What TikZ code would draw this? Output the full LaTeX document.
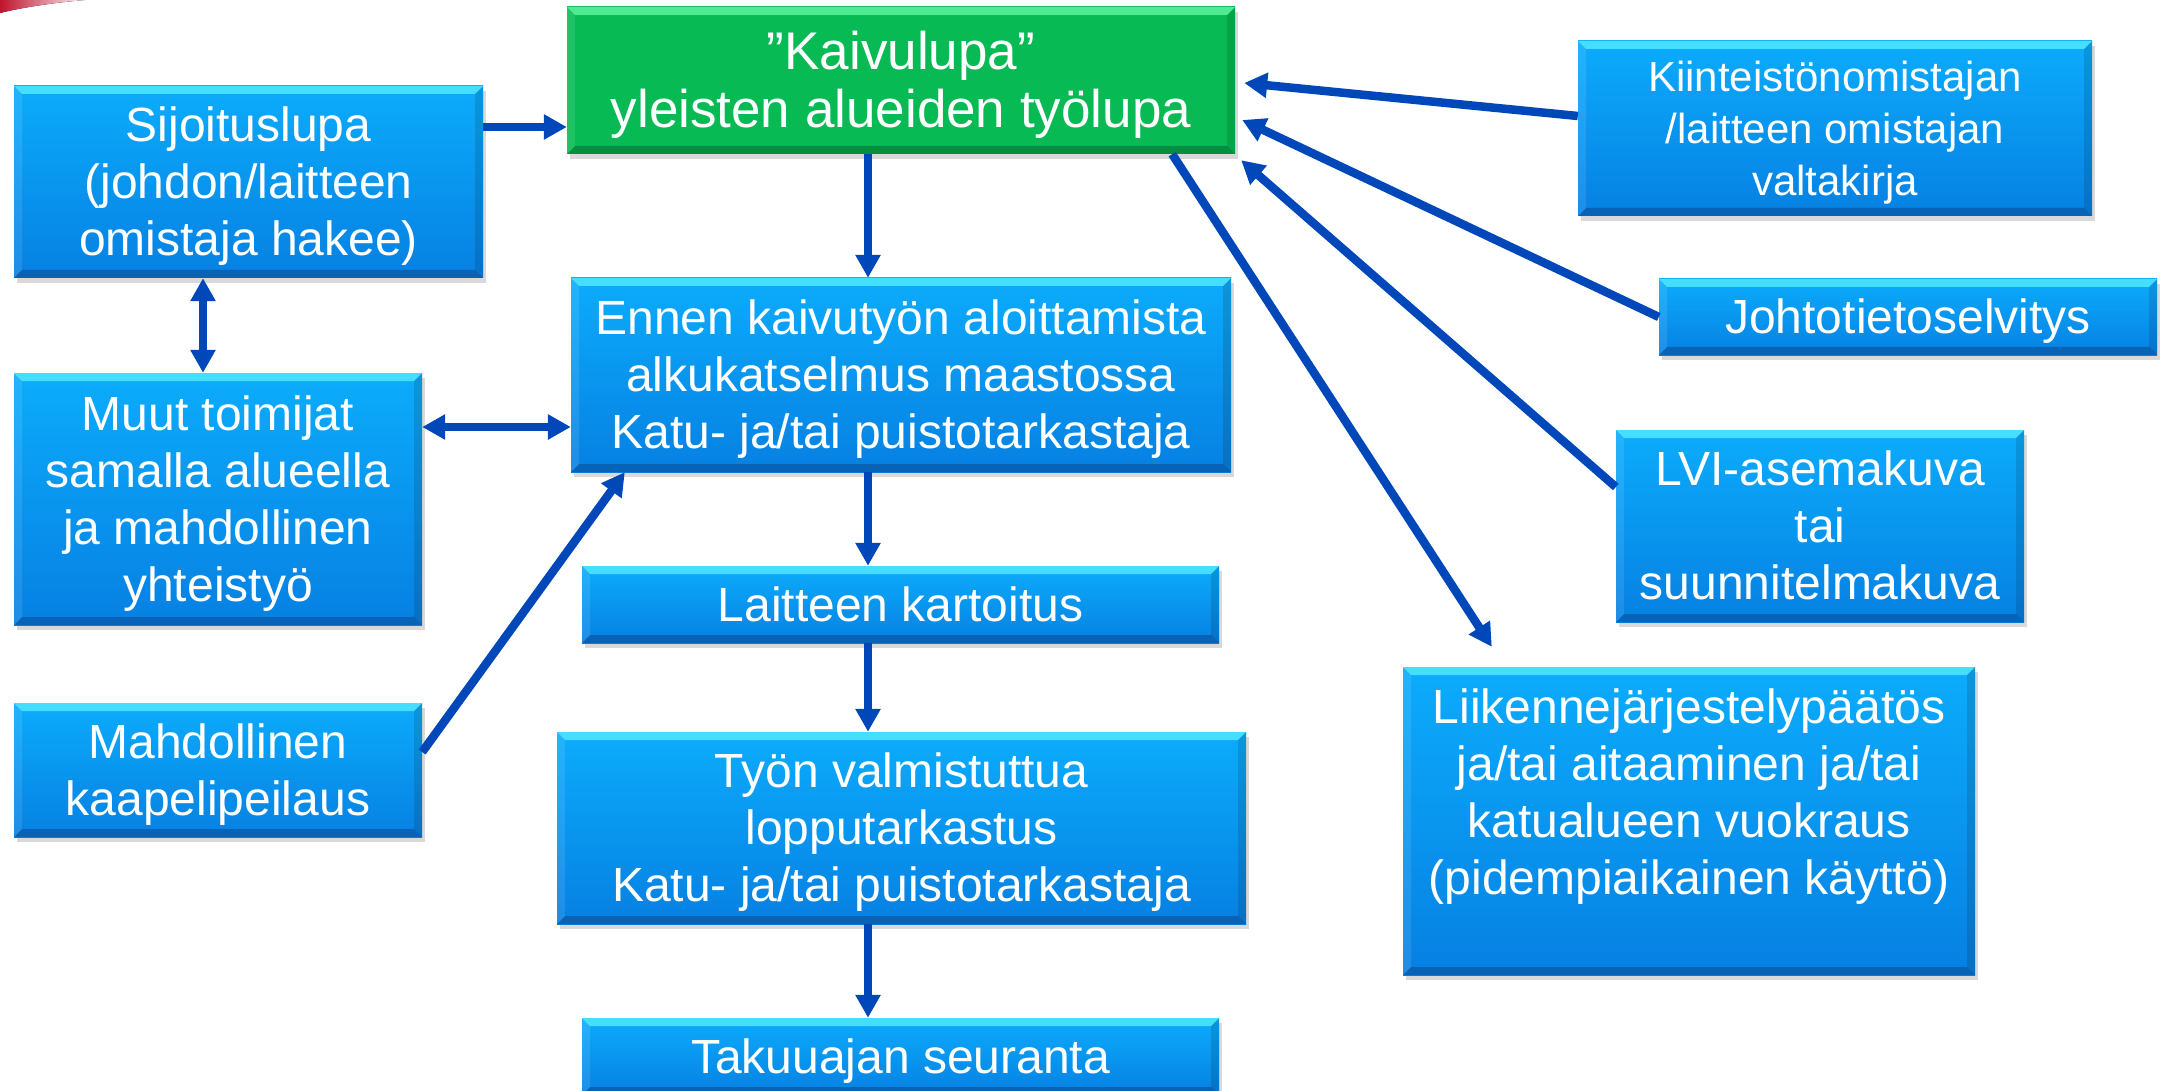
\documentclass[tikz,border=0pt]{standalone}
\usepackage{fontspec}
\setmainfont{Liberation Sans}
\usetikzlibrary{arrows.meta,shadows}

\definecolor{boxtop}{RGB}{12,172,252}
\definecolor{boxbot}{RGB}{6,128,226}
\definecolor{bevelhi}{RGB}{70,222,255}
\definecolor{bevello}{RGB}{8,98,182}
\definecolor{permit}{RGB}{8,186,84}
\definecolor{permithi}{RGB}{80,234,146}
\definecolor{permitlo}{RGB}{6,142,64}
\definecolor{flow}{RGB}{0,72,186}
\definecolor{logored}{RGB}{190,20,45}

% ascent/descent of the font, so that lines sit as in the slide
\newcommand\slidestrut{\rule[-0.212em]{0pt}{1.117em}}

\begin{document}
\begin{tikzpicture}[x=1pt,y=-1pt,
  bevel/.style 2 args={path picture={
    \fill[#1] (path picture bounding box.north west) -- (path picture bounding box.north east)
      -- ([xshift=-8pt,yshift=-8pt]path picture bounding box.north east)
      -- ([xshift=8pt,yshift=-8pt]path picture bounding box.north west) -- cycle;
    \fill[#2] (path picture bounding box.south west) -- (path picture bounding box.south east)
      -- ([xshift=-8pt,yshift=8pt]path picture bounding box.south east)
      -- ([xshift=8pt,yshift=8pt]path picture bounding box.south west) -- cycle;
    \fill[white,opacity=0.1] (path picture bounding box.north west) -- ([xshift=8pt,yshift=-8pt]path picture bounding box.north west)
      -- ([xshift=8pt,yshift=8pt]path picture bounding box.south west) -- (path picture bounding box.south west) -- cycle;
    \fill[black,opacity=0.12] (path picture bounding box.north east) -- ([xshift=-8pt,yshift=-8pt]path picture bounding box.north east)
      -- ([xshift=-8pt,yshift=8pt]path picture bounding box.south east) -- (path picture bounding box.south east) -- cycle;
  }},
  box/.style={rectangle, inner sep=0pt, align=center, text=white,
    font=\fontsize{48}{57}\selectfont,
    execute at end node=\slidestrut,
    top color=boxtop, bottom color=boxbot, bevel={bevelhi}{bevello},
    drop shadow={shadow xshift=3pt,shadow yshift=-5pt,opacity=0.3}},
  permitbox/.style={box, top color=permit, bottom color=permit, bevel={permithi}{permitlo},
    font=\fontsize{53}{58}\selectfont},
  arr/.style={draw=flow, line width=8.5pt, -{Triangle[length=23pt,width=24pt]}},
  arr2/.style={arr, {Triangle[length=23pt,width=24pt]}-{Triangle[length=23pt,width=24pt]}}]

\useasboundingbox (0,0) rectangle (2169,1091);

% corner of the logo
\fill[left color=logored, right color=logored!5] (0,0) -- (85,0) .. controls (50,3) and (20,8) .. (0,13) -- cycle;

% boxes
\node[permitbox, minimum width=668, minimum height=147] (kaivu) at (901,80.5) {\slidestrut”Kaivulupa”\\yleisten alueiden työlupa};
\node[box, minimum width=469, minimum height=192] (sijo) at (248.5,182) {\slidestrut Sijoituslupa\\(johdon/laitteen\\omistaja hakee)};
\node[box, minimum width=660, minimum height=194] (ennen) at (901,375) {\slidestrut Ennen kaivutyön aloittamista\\alkukatselmus maastossa\\Katu- ja/tai puistotarkastaja};
\node[box, minimum width=408, minimum height=252] (muut) at (218,499) {\slidestrut Muut toimijat\\samalla alueella\\ja mahdollinen\\yhteistyö};
\node[box, minimum width=637, minimum height=77] (laite) at (900.5,604.5) {\slidestrut Laitteen kartoitus};
\node[box, minimum width=408, minimum height=134] (mahd) at (218,770) {\slidestrut Mahdollinen\\kaapelipeilaus};
\node[box, minimum width=689, minimum height=192] (tyon) at (901.5,828) {\slidestrut Työn valmistuttua\\lopputarkastus\\Katu- ja/tai puistotarkastaja};
\node[box, minimum width=637, minimum height=77] (takuu) at (900.5,1056.5) {\slidestrut Takuuajan seuranta};
\node[box, minimum width=514, minimum height=175, font=\fontsize{42}{52}\selectfont] (kiint) at (1835,128.5) {\slidestrut Kiinteistönomistajan\\/laitteen omistajan\\valtakirja};
\node[box, minimum width=498, minimum height=76] (johto) at (1908,317) {\slidestrut Johtotietoselvitys};
\node[box, minimum width=408, minimum height=192] (lvi) at (1820,526) {\slidestrut LVI-asemakuva\\tai\\suunnitelmakuva};
\node[box, minimum width=572, minimum height=308] (liik) at (1689,821) {\slidestrut Liikennejärjestelypäätös\\ja/tai aitaaminen ja/tai\\katualueen vuokraus\\(pidempiaikainen käyttö)\\ \mbox{}};

% main chain
\coordinate (spine) at (868,0);
\draw[arr] (kaivu.south -| spine) -- (ennen.north -| spine);
\draw[arr] (ennen.south -| spine) -- (laite.north -| spine);
\draw[arr] (laite.south -| spine) -- (tyon.north -| spine);
\draw[arr] (tyon.south -| spine) -- (takuu.north -| spine);

% left side
\draw[arr] ([yshift=55pt]sijo.east) -- ([yshift=55pt]sijo.east -| kaivu.west);
\draw[arr2] ([xshift=-45.5pt]sijo.south) -- ([xshift=-45.5pt]sijo.south |- muut.north);
\draw[arr2] ([yshift=72pt]muut.east) -- ([yshift=72pt]muut.east -| ennen.west);
\draw[arr] ([yshift=18pt]mahd.east) -- ([xshift=54pt]ennen.south west);

% right side
\draw[arr] ([yshift=12.5pt]kiint.west) -- ([xshift=9pt,yshift=-2.5pt]kaivu.east);
\draw[arr] (johto.west) -- ([xshift=7pt,yshift=-39.5pt]kaivu.east);
\draw[arr] ([yshift=39pt]lvi.west) -- ([xshift=6pt,yshift=-6pt]kaivu.south east);
\draw[arr] ([xshift=-63pt]kaivu.south east) -- ([xshift=89pt,yshift=20pt]liik.north west);
\end{tikzpicture}
\end{document}
